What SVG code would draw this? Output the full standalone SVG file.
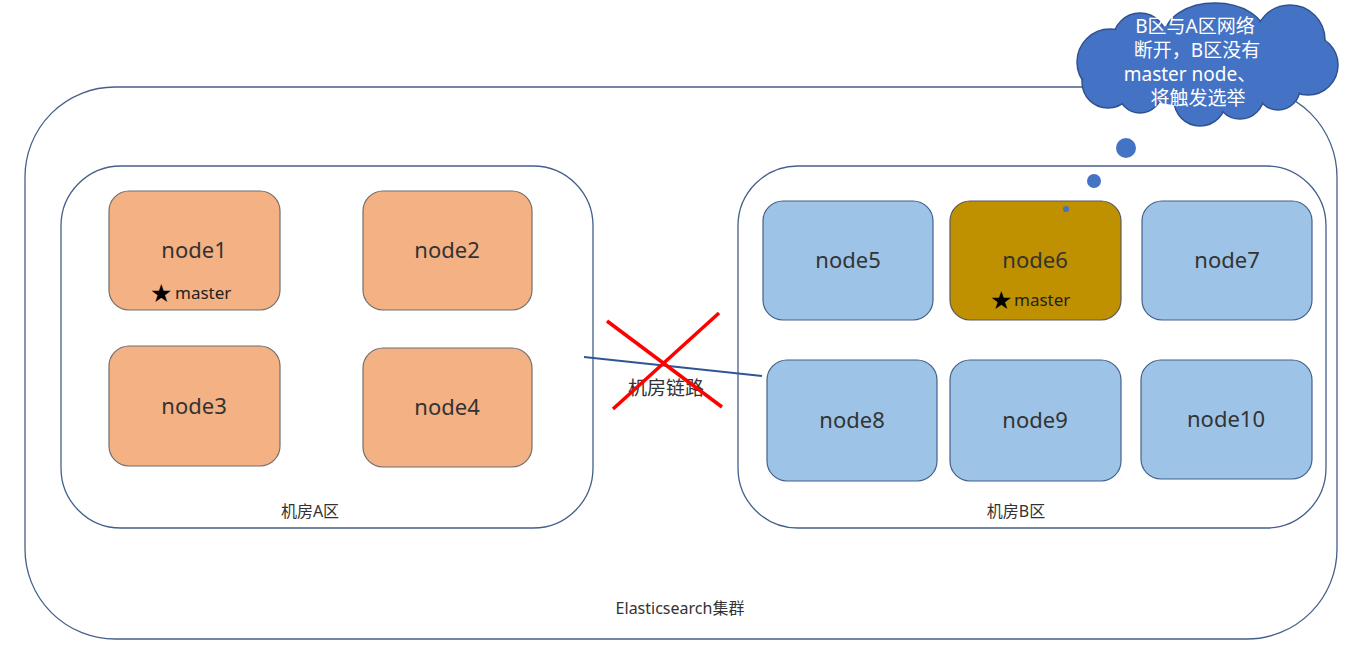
<svg xmlns="http://www.w3.org/2000/svg" width="1354" height="650" viewBox="0 0 1354 650">
<style>
.frame{fill:#fff;stroke:#44608a;stroke-width:1.3}
.na{fill:#F4B183;stroke:#6f6f6f;stroke-width:1.2}
.nb{fill:#9DC3E6;stroke:#44608a;stroke-width:1.2}
.nm{fill:#BF9000;stroke:#5a5a5a;stroke-width:1.2}
.lbl{font-family:"Noto Sans","Noto Sans CJK SC",sans-serif;font-size:22px;fill:#333;text-anchor:middle}
.ms{font-family:"Noto Sans","Noto Sans CJK SC",sans-serif;font-size:17px;fill:#222}
.st{font-family:"DejaVu Sans",sans-serif;font-size:25px;fill:#000}
.zn{font-family:"Noto Sans","Noto Sans CJK SC",sans-serif;font-size:16px;fill:#333;text-anchor:middle}
.ct{font-family:"Noto Sans","Noto Sans CJK SC",sans-serif;font-size:19px;fill:#fff;text-anchor:middle}
</style>
<g id="cluster">
<rect class="frame" x="25" y="87" width="1312" height="552" rx="90"/>
<text class="zn" x="680" y="614">Elasticsearch集群</text>
</g>
<g id="zoneA">
<rect class="frame" x="61" y="166" width="532" height="362" rx="60"/>
<text class="zn" x="310" y="517">机房A区</text>
</g>
<g id="zoneB">
<rect class="frame" x="738" y="166" width="588" height="362" rx="60"/>
<text class="zn" x="1016" y="517">机房B区</text>
</g>
<g id="connectors">
<line x1="584" y1="357" x2="762" y2="376" stroke="#2F5597" stroke-width="1.8"/>
<text x="666" y="395" font-family="Noto Sans,Noto Sans CJK SC,sans-serif" font-size="19" fill="#333" text-anchor="middle">机房链路</text>
<line x1="607" y1="321" x2="722" y2="407" stroke="#FF0000" stroke-width="3.5"/>
<line x1="719" y1="313" x2="613" y2="409" stroke="#FF0000" stroke-width="3.5"/>
</g>
<g id="node1"><rect class="na" x="109" y="191" width="171" height="119" rx="20"/><text class="lbl" x="194" y="258">node1</text><text class="st" x="150" y="302">★</text><text class="ms" x="175" y="299">master</text></g>
<g id="node2"><rect class="na" x="363" y="191" width="169" height="119" rx="20"/><text class="lbl" x="447" y="258">node2</text></g>
<g id="node3"><rect class="na" x="109" y="346" width="171" height="120" rx="20"/><text class="lbl" x="194" y="414">node3</text></g>
<g id="node4"><rect class="na" x="363" y="348" width="169" height="119" rx="20"/><text class="lbl" x="447" y="415">node4</text></g>
<g id="node5"><rect class="nb" x="763" y="201" width="170" height="119" rx="20"/><text class="lbl" x="848" y="268">node5</text></g>
<g id="node6"><rect class="nm" x="950" y="201" width="171" height="119" rx="20"/><text class="lbl" x="1035" y="268">node6</text><text class="st" x="990" y="309">★</text><text class="ms" x="1014" y="306">master</text><circle cx="1066" cy="209" r="3" fill="#4472C4"/></g>
<g id="node7"><rect class="nb" x="1142" y="201" width="170" height="119" rx="20"/><text class="lbl" x="1227" y="268">node7</text></g>
<g id="node8"><rect class="nb" x="767" y="360" width="170" height="121" rx="20"/><text class="lbl" x="852" y="428">node8</text></g>
<g id="node9"><rect class="nb" x="950" y="360" width="171" height="121" rx="20"/><text class="lbl" x="1035" y="428">node9</text></g>
<g id="node10"><rect class="nb" x="1141" y="360" width="171" height="119" rx="20"/><text class="lbl" x="1226" y="427">node10</text></g>
<g id="callout">
<g fill="#4472C4" stroke="#2F528F" stroke-width="1.5">
<circle cx="1140" cy="40" r="27"/><ellipse cx="1215" cy="35" rx="50" ry="32"/><circle cx="1290" cy="40" r="35"/>
<circle cx="1308" cy="65" r="30"/><circle cx="1278" cy="88" r="22"/><circle cx="1200" cy="100" r="26"/>
<circle cx="1240" cy="95" r="24"/><circle cx="1140" cy="91" r="22"/><circle cx="1110" cy="62" r="33"/><circle cx="1108" cy="82" r="26"/>
</g>
<g fill="#4472C4">
<circle cx="1140" cy="40" r="26"/><ellipse cx="1215" cy="35" rx="49" ry="31"/><circle cx="1290" cy="40" r="34"/>
<circle cx="1308" cy="65" r="29"/><circle cx="1278" cy="88" r="21"/><circle cx="1200" cy="100" r="25"/>
<circle cx="1240" cy="95" r="23"/><circle cx="1140" cy="91" r="21"/><circle cx="1110" cy="62" r="32"/><circle cx="1108" cy="82" r="25"/>
<ellipse cx="1205" cy="65" rx="105" ry="42"/>
</g>
<text class="ct" x="1195" y="33">B区与A区网络</text>
<text class="ct" x="1197" y="57">断开，B区没有</text>
<text class="ct" x="1190" y="81">master node、</text>
<text class="ct" x="1198" y="105">将触发选举</text>
<circle cx="1126" cy="148" r="10" fill="#4472C4"/>
<circle cx="1094" cy="181" r="7" fill="#4472C4"/>
</g>
</svg>
